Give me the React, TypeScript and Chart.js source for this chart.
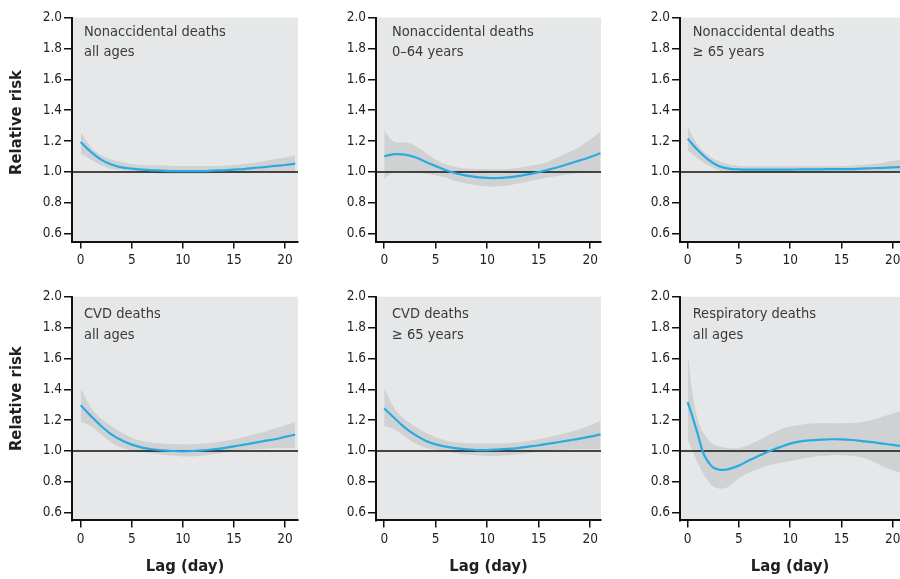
import React, { useEffect, useRef } from "react";
import { Chart, registerables } from "chart.js";

Chart.register(...registerables);

// ---------- data ----------
const lags = [0, 1, 2, 3, 4, 5, 6, 7, 8, 9, 10, 11, 12, 13, 14, 15, 16, 17, 18, 19, 20, 21];
const lagsResp = [0, 0.5, 1, 1.5, 2, 2.5, 3, 3.5, 4, 5, 6, 7, 8, 9, 10, 11, 12, 13, 14, 15, 16, 17, 18, 19, 20, 21];
const xTickValues = [0, 5, 10, 15, 20];
const yTickValues = [0.6, 0.8, 1.0, 1.2, 1.4, 1.6, 1.8, 2.0];
const referenceRisk = 1.0;

// Nonaccidental deaths, all ages
const naAllFit = [1.194, 1.13, 1.08, 1.048, 1.03, 1.022, 1.015, 1.011, 1.009, 1.006, 1.006, 1.006, 1.006, 1.009, 1.011, 1.015, 1.019, 1.026, 1.032, 1.039, 1.045, 1.054];
const naAllHigh = [1.26, 1.162, 1.108, 1.08, 1.063, 1.052, 1.043, 1.043, 1.043, 1.039, 1.039, 1.039, 1.039, 1.039, 1.041, 1.045, 1.052, 1.06, 1.071, 1.082, 1.093, 1.108];
const naAllLow = [1.119, 1.08, 1.043, 1.019, 1.011, 1.004, 0.998, 0.994, 0.989, 0.989, 0.989, 0.989, 0.989, 0.991, 0.994, 0.996, 0.998, 1.0, 1.0, 1.0, 1.0, 1.0];

// Nonaccidental deaths, 0-64 years
const na064Fit = [1.102, 1.115, 1.112, 1.095, 1.066, 1.038, 1.011, 0.99, 0.976, 0.967, 0.962, 0.961, 0.965, 0.973, 0.985, 0.999, 1.016, 1.034, 1.054, 1.075, 1.097, 1.121];
const na064High = [1.266, 1.194, 1.192, 1.17, 1.125, 1.08, 1.048, 1.031, 1.022, 1.019, 1.018, 1.018, 1.02, 1.026, 1.037, 1.05, 1.07, 1.1, 1.13, 1.165, 1.21, 1.26];
const na064Low = [0.957, 1.003, 1.001, 0.998, 0.99, 0.978, 0.963, 0.94, 0.925, 0.913, 0.908, 0.907, 0.913, 0.925, 0.94, 0.953, 0.966, 0.976, 0.985, 0.993, 1.0, 1.005];

// Nonaccidental deaths, >= 65 years
const na65Fit = [1.216, 1.14, 1.08, 1.039, 1.022, 1.017, 1.015, 1.015, 1.015, 1.015, 1.015, 1.017, 1.017, 1.017, 1.019, 1.019, 1.019, 1.022, 1.024, 1.026, 1.03, 1.032];
const na65High = [1.292, 1.173, 1.108, 1.071, 1.05, 1.041, 1.037, 1.037, 1.037, 1.037, 1.037, 1.037, 1.037, 1.037, 1.037, 1.039, 1.041, 1.045, 1.052, 1.06, 1.071, 1.08];
const na65Low = [1.14, 1.086, 1.043, 1.011, 0.998, 0.996, 0.996, 0.996, 0.996, 0.996, 0.996, 0.996, 0.996, 0.998, 0.998, 0.998, 0.998, 1.0, 1.0, 1.0, 1.0, 1.0];

// CVD deaths, all ages
const cvdAllFit = [1.296, 1.227, 1.162, 1.108, 1.069, 1.041, 1.022, 1.011, 1.004, 1.0, 0.998, 1.0, 1.004, 1.011, 1.019, 1.03, 1.041, 1.052, 1.065, 1.076, 1.091, 1.106];
const cvdAllHigh = [1.41, 1.281, 1.21, 1.162, 1.119, 1.086, 1.065, 1.054, 1.048, 1.043, 1.043, 1.043, 1.048, 1.054, 1.063, 1.076, 1.093, 1.108, 1.125, 1.145, 1.166, 1.19];
const cvdAllLow = [1.188, 1.162, 1.108, 1.054, 1.022, 1.004, 0.994, 0.985, 0.976, 0.97, 0.965, 0.965, 0.97, 0.978, 0.989, 0.998, 1.006, 1.011, 1.015, 1.017, 1.017, 1.017];

// CVD deaths, >= 65 years
const cvd65Fit = [1.276, 1.212, 1.151, 1.104, 1.067, 1.043, 1.028, 1.017, 1.011, 1.006, 1.006, 1.009, 1.013, 1.019, 1.028, 1.037, 1.048, 1.058, 1.069, 1.08, 1.093, 1.108];
const cvd65High = [1.406, 1.276, 1.205, 1.158, 1.119, 1.089, 1.067, 1.056, 1.05, 1.048, 1.048, 1.048, 1.05, 1.056, 1.065, 1.076, 1.091, 1.106, 1.123, 1.143, 1.166, 1.197];
const cvd65Low = [1.162, 1.14, 1.093, 1.05, 1.022, 1.006, 0.996, 0.985, 0.976, 0.972, 0.968, 0.968, 0.972, 0.978, 0.987, 0.996, 1.002, 1.006, 1.009, 1.011, 1.011, 1.011];

// Respiratory deaths, all ages
const respFit = [1.317, 1.215, 1.105, 0.99, 0.93, 0.892, 0.88, 0.877, 0.882, 0.905, 0.94, 0.97, 1.0, 1.025, 1.048, 1.062, 1.069, 1.073, 1.076, 1.075, 1.071, 1.064, 1.057, 1.048, 1.039, 1.03];
const respHigh = [1.637, 1.36, 1.2, 1.12, 1.075, 1.043, 1.03, 1.022, 1.019, 1.018, 1.04, 1.072, 1.107, 1.14, 1.158, 1.17, 1.178, 1.18, 1.179, 1.179, 1.181, 1.187, 1.2, 1.222, 1.243, 1.265];
const respLow = [1.076, 0.995, 0.92, 0.855, 0.805, 0.769, 0.757, 0.758, 0.77, 0.822, 0.86, 0.885, 0.907, 0.922, 0.935, 0.948, 0.96, 0.967, 0.973, 0.972, 0.967, 0.958, 0.935, 0.9, 0.875, 0.855];

const panelTitles = [
  ["Nonaccidental deaths", "all ages"],
  ["Nonaccidental deaths", "0\u201364 years"],
  ["Nonaccidental deaths", "\u2265 65 years"],
  ["CVD deaths", "all ages"],
  ["CVD deaths", "\u2265 65 years"],
  ["Respiratory deaths", "all ages"],
];
const yAxisTitle = "Relative risk";
const xAxisTitle = "Lag (day)";

const panels = [
  { lines: panelTitles[0], x: lags, fit: naAllFit, high: naAllHigh, low: naAllLow },
  { lines: panelTitles[1], x: lags, fit: na064Fit, high: na064High, low: na064Low },
  { lines: panelTitles[2], x: lags, fit: na65Fit, high: na65High, low: na65Low },
  { lines: panelTitles[3], x: lags, fit: cvdAllFit, high: cvdAllHigh, low: cvdAllLow },
  { lines: panelTitles[4], x: lags, fit: cvd65Fit, high: cvd65High, low: cvd65Low },
  { lines: panelTitles[5], x: lagsResp, fit: respFit, high: respHigh, low: respLow },
];

// ---------- styles / layout ----------
const FONT = "'Liberation Sans Narrow', 'DejaVu Sans Condensed', 'Liberation Sans', sans-serif";
const LINE_COLOR = "#29abe2";
const BAND_COLOR = "#d0d1d2";
const PLOT_BG = "#e6e7e8";
const AXIS_COLOR = "#111111";
const TEXT_COLOR = "#231f20";
const LABEL_COLOR = "#3a3a3a";

const ROWS = [
  { top: 0, height: 290, padTop: 17.5, xAxisH: 48.5, labelDY: [14.8, 35.2], xTitle: false, yTitleDY: 105 },
  { top: 280, height: 299, padTop: 16.7, xAxisH: 58.6, labelDY: [17.3, 38.3], xTitle: true, yTitleDY: 102 },
];
const COLS = [
  { left: 0, width: 300, yAxisW: 72, padRight: 2, xMin: -0.85, xMax: 21.27, yTitle: true, labelDX: 12 },
  { left: 300, width: 302, yAxisW: 76, padRight: 1, xMin: -0.8, xMax: 21.05, yTitle: false, labelDX: 16 },
  { left: 600, width: 320, yAxisW: 80, padRight: 20, xMin: -0.75, xMax: 20.71, yTitle: false, labelDX: 12.7 },
];

const bgPlugin = {
  id: "plotBg",
  beforeDraw(chart: any) {
    const { ctx, chartArea } = chart;
    ctx.save();
    ctx.fillStyle = PLOT_BG;
    ctx.fillRect(chartArea.left, chartArea.top, chartArea.right - chartArea.left, chartArea.bottom - chartArea.top);
    ctx.restore();
  },
};

const decorPlugin = {
  id: "panelDecor",
  afterDraw(chart: any, _args: any, opts: any) {
    const { ctx, chartArea } = chart;
    ctx.save();
    ctx.font = `14.5px ${FONT}`;
    ctx.fillStyle = LABEL_COLOR;
    ctx.textBaseline = "middle";
    ctx.textAlign = "left";
    (opts.lines || []).forEach((t: string, i: number) => {
      ctx.fillText(t, chartArea.left + opts.dx, chartArea.top + opts.dy[i]);
    });
    if (opts.yTitle) {
      ctx.fillStyle = TEXT_COLOR;
      ctx.translate(17, chartArea.top + opts.yTitleDY);
      ctx.rotate(-Math.PI / 2);
      ctx.font = `bold 16.5px ${FONT}`;
      ctx.textAlign = "center";
      ctx.fillText(yAxisTitle, 0, 0);
    }
    ctx.restore();
  },
};

function PanelChart({ idx }: { idx: number }) {
  const ref = useRef<HTMLCanvasElement>(null);
  const row = ROWS[Math.floor(idx / 3)];
  const col = COLS[idx % 3];
  const panel = panels[idx];

  useEffect(() => {
    const toPts = (ys: number[]) => panel.x.map((x, i) => ({ x, y: ys[i] }));
    const smooth = { tension: 0.35, cubicInterpolationMode: "default" };
    const chart = new Chart(ref.current as HTMLCanvasElement, {
      type: "line",
      data: {
        datasets: [
          {
            data: toPts(panel.fit),
            borderColor: LINE_COLOR,
            borderWidth: 2.2,
            pointRadius: 0,
            fill: false,
            ...smooth,
          },
          {
            data: [
              { x: col.xMin, y: referenceRisk },
              { x: col.xMax, y: referenceRisk },
            ],
            borderColor: AXIS_COLOR,
            borderWidth: 1.3,
            pointRadius: 0,
            fill: false,
          },
          {
            data: toPts(panel.high),
            borderColor: "rgba(0,0,0,0)",
            borderWidth: 0,
            pointRadius: 0,
            backgroundColor: BAND_COLOR,
            fill: "+1",
            ...smooth,
          },
          {
            data: toPts(panel.low),
            borderColor: "rgba(0,0,0,0)",
            borderWidth: 0,
            pointRadius: 0,
            fill: false,
            ...smooth,
          },
        ],
      } as any,
      options: {
        animation: false,
        responsive: false,
        events: [],
        layout: { padding: { top: row.padTop, right: col.padRight, left: 0, bottom: 0 } },
        plugins: {
          legend: { display: false },
          tooltip: { enabled: false },
          panelDecor: { lines: panel.lines, dx: col.labelDX, dy: row.labelDY, yTitle: col.yTitle, yTitleDY: row.yTitleDY },
        } as any,
        scales: {
          x: {
            type: "linear",
            min: col.xMin,
            max: col.xMax,
            afterBuildTicks: (s: any) => {
              s.ticks = xTickValues.map((v) => ({ value: v }));
            },
            afterFit: (s: any) => {
              s.height = row.xAxisH;
            },
            grid: { drawOnChartArea: false, drawTicks: true, tickLength: 7, color: AXIS_COLOR, lineWidth: 1.5 },
            border: { display: true, color: AXIS_COLOR, width: 2 },
            ticks: { padding: 4, color: TEXT_COLOR, font: { family: FONT, size: 13.5 }, maxRotation: 0, autoSkip: false },
            title: {
              display: row.xTitle,
              text: xAxisTitle,
              color: TEXT_COLOR,
              font: { family: FONT, size: 16.5, weight: "bold" },
              padding: { top: 0, bottom: 2 },
            },
          },
          y: {
            type: "linear",
            min: 0.55,
            max: 2.0,
            afterBuildTicks: (s: any) => {
              s.ticks = yTickValues.map((v) => ({ value: v }));
            },
            afterFit: (s: any) => {
              s.width = col.yAxisW;
            },
            grid: { drawOnChartArea: false, drawTicks: true, tickLength: 8, color: AXIS_COLOR, lineWidth: 1.5 },
            border: { display: true, color: AXIS_COLOR, width: 2 },
            ticks: {
              padding: 2,
              color: TEXT_COLOR,
              font: { family: FONT, size: 13.5 },
              callback: (v: any) => Number(v).toFixed(1),
            },
          },
        },
      } as any,
      plugins: [bgPlugin, decorPlugin],
    });
    return () => chart.destroy();
  }, []);

  return (
    <canvas
      ref={ref}
      width={col.width}
      height={row.height}
      style={{ position: "absolute", left: col.left, top: row.top, width: col.width, height: row.height }}
    />
  );
}

export default function App() {
  return (
    <div
      style={{
        position: "absolute",
        left: 0,
        top: 0,
        width: 900,
        height: 579,
        overflow: "hidden",
        background: "#ffffff",
      }}
    >
      {panels.map((_, i) => (
        <PanelChart key={i} idx={i} />
      ))}
    </div>
  );
}
